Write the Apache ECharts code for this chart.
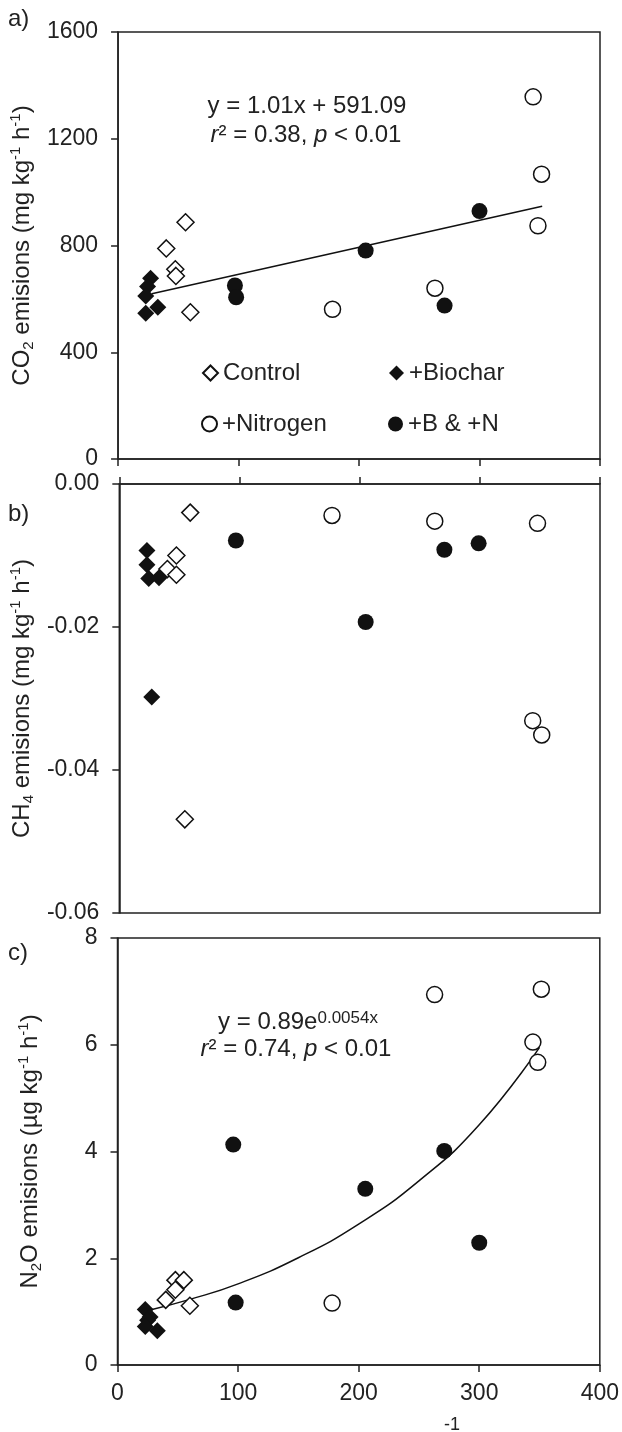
<!DOCTYPE html>
<html>
<head>
<meta charset="utf-8">
<script src="https://cdn.jsdelivr.net/npm/echarts@6/dist/echarts.min.js"></script>
<style>
  html, body { margin: 0; padding: 0; background: #fff; }
  #chart { width: 622px; height: 1432px; }
</style>
</head>
<body>
<div id="chart"></div>
<script>
// Panel a: CO2 emissions (mg kg-1 h-1), [x, y] pairs
const co2Control  = [[56, 887], [40, 789], [47.5, 711], [48, 686], [60, 550]];
const co2Biochar  = [[27, 677], [24.5, 646], [23, 611], [33, 569], [23, 546]];
const co2Nitrogen = [[178, 561], [263, 640], [344.5, 1357], [351.5, 1067], [348.5, 874]];
const co2BN       = [[97, 650], [98, 606], [205.5, 781], [271, 575], [300, 929]];
const co2FitX = [28, 352];
const co2FitY = [619, 947];

// Panel b: CH4 emissions (mg kg-1 h-1)
const ch4Control  = [[59, -0.0040], [47.5, -0.0100], [40, -0.0119], [47.5, -0.0127], [54.5, -0.0469]];
const ch4Biochar  = [[23, -0.0093], [23, -0.0113], [24.5, -0.0132], [33, -0.0131], [27, -0.0298]];
const ch4Nitrogen = [[177, -0.0044], [262.5, -0.0052], [348, -0.0055], [344, -0.0331], [351.5, -0.0351]];
const ch4BN       = [[97, -0.0079], [205, -0.0193], [270.5, -0.0092], [299, -0.0083]];

// Panel c: N2O emissions (ug kg-1 h-1)
const n2oControl  = [[40, 1.22], [48, 1.59], [48, 1.41], [55, 1.59], [60, 1.11]];
const n2oBiochar  = [[23, 1.04], [27, 0.90], [25, 0.84], [23, 0.72], [33, 0.64]];
const n2oNitrogen = [[178, 1.16], [263, 6.94], [351.5, 7.04], [344.5, 6.05], [348.5, 5.67]];
const n2oBN       = [[96, 4.13], [98, 1.17], [205.5, 3.30], [271, 4.01], [300, 2.29]];
const n2oFitX = [27, 60, 100, 150, 200, 250, 300, 350];
const n2oFitY = [1.03, 1.23, 1.52, 2.01, 2.64, 3.45, 4.50, 5.95];

const xTicks = [0, 100, 200, 300, 400];

const FONT = '"Liberation Sans", Arial, Helvetica, sans-serif';
const INK = '#222';
const MARK = '#111';

function scatter(name, data, idx, filled, shape) {
  return {
    name: name,
    type: 'scatter',
    xAxisIndex: idx,
    yAxisIndex: idx,
    data: data,
    symbol: shape,
    symbolSize: shape === 'diamond' ? 17 : 16,
    itemStyle: {
      color: filled ? MARK : '#fff',
      borderColor: MARK,
      borderWidth: filled ? 0 : 1.5,
      opacity: 1
    },
    z: 3
  };
}

function fitLine(xs, ys, idx, smooth) {
  return {
    type: 'line',
    xAxisIndex: idx,
    yAxisIndex: idx,
    data: xs.map((x, i) => [x, ys[i]]),
    smooth: smooth,
    symbol: 'none',
    silent: true,
    lineStyle: { color: MARK, width: 1.5 },
    z: 2
  };
}

const axisLine = { lineStyle: { color: INK, width: 1.5 } };
const axisTick = { show: true, length: 7, lineStyle: { color: INK, width: 1.5 } };

function xAxis(idx, position, showLabel) {
  return {
    type: 'value',
    gridIndex: idx,
    position: position,
    min: xTicks[0],
    max: xTicks[xTicks.length - 1],
    interval: 100,
    axisLine: Object.assign({ onZero: false }, axisLine),
    axisTick: axisTick,
    splitLine: { show: false },
    axisLabel: {
      show: showLabel,
      color: INK,
      fontSize: 23,
      fontFamily: FONT,
      margin: 17
    }
  };
}

const nameRich = {
  t: { fontSize: 24, lineHeight: 28, color: INK, fontFamily: FONT },
  sub: { fontSize: 15, lineHeight: 15, verticalAlign: 'bottom', color: INK, fontFamily: FONT },
  sup: { fontSize: 15, lineHeight: 15, verticalAlign: 'top', color: INK, fontFamily: FONT }
};

function yAxis(idx, min, max, interval, name, fmt) {
  return {
    type: 'value',
    gridIndex: idx,
    min: min,
    max: max,
    interval: interval,
    name: name,
    nameLocation: 'middle',
    nameRotate: 90,
    nameGap: 73,
    nameTextStyle: { fontSize: 24, color: INK, fontFamily: FONT, rich: nameRich },
    axisLine: axisLine,
    axisTick: axisTick,
    splitLine: { show: false },
    axisLabel: {
      color: INK,
      fontSize: 23,
      fontFamily: FONT,
      margin: 20,
      formatter: fmt
    }
  };
}

const gridBase = { left: 117.5, right: 22, show: true, borderColor: INK, borderWidth: 1.5 };

const legendBase = {
  orient: 'horizontal',
  padding: 0,
  itemWidth: 15,
  itemHeight: 15,
  selectedMode: false,
  textStyle: { fontSize: 24, color: INK, fontFamily: FONT }
};

const titleRich = {
  i: { fontStyle: 'italic', fontSize: 24, color: INK, fontFamily: FONT },
  sup: { fontSize: 17, lineHeight: 17, verticalAlign: 'top', color: INK, fontFamily: FONT }
};

function label(text, left, top, center, size) {
  return {
    text: text,
    left: left,
    top: top,
    textAlign: center ? 'center' : 'left',
    padding: 0,
    textStyle: {
      fontSize: size || 24,
      fontWeight: 'normal',
      color: INK,
      fontFamily: FONT,
      rich: titleRich
    }
  };
}

const chart = echarts.init(document.getElementById('chart'));

chart.setOption({
  animation: false,
  backgroundColor: '#fff',
  title: [
    label('a)', 8, 7),
    label('b)', 8, 502),
    label('c)', 8, 941),
    label('y = 1.01x + 591.09', 307, 94, true),
    label('{i|r}² = 0.38, {i|p} < 0.01', 306, 123, true),
    label('y = 0.89e{sup|0.0054x}', 298, 1010, true),
    label('{i|r}² = 0.74, {i|p} < 0.01', 296, 1037, true),
    label('-1', 452, 1416, true, 18)
  ],
  legend: [
    Object.assign({ left: 202, top: 361, data: [{ name: 'Control', icon: 'diamond' }] }, legendBase),
    Object.assign({ left: 389, top: 361, data: [{ name: '+Biochar', icon: 'diamond' }] }, legendBase),
    Object.assign({ left: 201, top: 412, data: [{ name: '+Nitrogen', icon: 'circle' }] }, legendBase),
    Object.assign({ left: 388, top: 412, data: [{ name: '+B & +N', icon: 'circle' }] }, legendBase)
  ],
  grid: [
    Object.assign({ top: 32, height: 427 }, gridBase),
    Object.assign({ top: 484, height: 429 }, gridBase),
    Object.assign({ top: 938, height: 427 }, gridBase)
  ],
  xAxis: [
    xAxis(0, 'bottom', false),
    xAxis(1, 'top', false),
    xAxis(2, 'bottom', true)
  ],
  yAxis: [
    yAxis(0, 0, 1600, 400,
      '{t|CO}{sub|2}{t| emisions (mg kg}{sup|-1}{t| h}{sup|-1}{t|)}',
      v => String(v)),
    yAxis(1, -0.06, 0, 0.02,
      '{t|CH}{sub|4}{t| emisions (mg kg}{sup|-1}{t| h}{sup|-1}{t|)}',
      v => (Math.abs(v) < 1e-9 ? 0 : v).toFixed(2)),
    yAxis(2, 0, 8, 2,
      '{t|N}{sub|2}{t|O emisions (µg kg}{sup|-1}{t| h}{sup|-1}{t|)}',
      v => String(v))
  ],
  series: [
    fitLine(co2FitX, co2FitY, 0, false),
    scatter('Control', co2Control, 0, false, 'diamond'),
    scatter('+Biochar', co2Biochar, 0, true, 'diamond'),
    scatter('+Nitrogen', co2Nitrogen, 0, false, 'circle'),
    scatter('+B & +N', co2BN, 0, true, 'circle'),

    scatter('Control', ch4Control, 1, false, 'diamond'),
    scatter('+Biochar', ch4Biochar, 1, true, 'diamond'),
    scatter('+Nitrogen', ch4Nitrogen, 1, false, 'circle'),
    scatter('+B & +N', ch4BN, 1, true, 'circle'),

    fitLine(n2oFitX, n2oFitY, 2, true),
    scatter('Control', n2oControl, 2, false, 'diamond'),
    scatter('+Biochar', n2oBiochar, 2, true, 'diamond'),
    scatter('+Nitrogen', n2oNitrogen, 2, false, 'circle'),
    scatter('+B & +N', n2oBN, 2, true, 'circle')
  ]
});
</script>
</body>
</html>
